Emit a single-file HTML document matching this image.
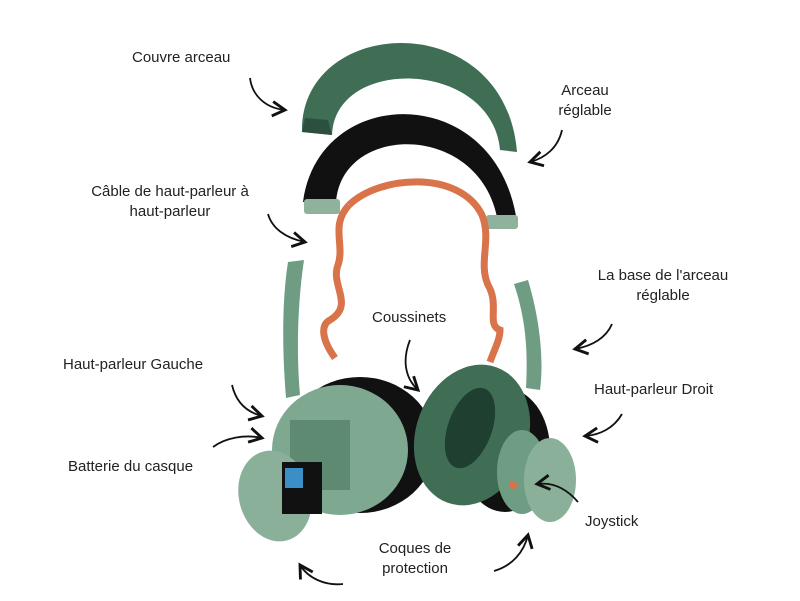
<!DOCTYPE html>
<html><head><meta charset="utf-8"><style>
body{margin:0;background:#fff;width:800px;height:601px;overflow:hidden;position:relative;font-family:"Liberation Sans",sans-serif;}
.t{position:absolute;font-size:15px;color:#222;line-height:20px;white-space:nowrap;}
.c{text-align:center;}
svg{position:absolute;left:0;top:0;}
</style></head><body>
<svg width="800" height="601" viewBox="0 0 800 601">
<defs><marker id="a" markerWidth="10" markerHeight="10" refX="8" refY="5" orient="auto"><path d="M1,1 L8,5 L1,9" fill="none" stroke="#111" stroke-width="1.6"/></marker></defs>
<path d="M288,262 L304,260 C298,300 296,350 300,395 L286,398 C282,350 282,300 288,262Z" fill="#6f9d83"/>
<path d="M514,284 L528,280 C540,320 544,360 540,390 L526,388 C528,350 526,320 514,284Z" fill="#6f9d83"/>
<path d="M302,132 C300,15 505,5 517,152 L500,150 C492,60 335,55 332,135Z" fill="#3f6e55"/>
<path d="M302,132 L332,135 L328,120 L305,118Z" fill="#2c5040"/>
<path d="M303,202 C318,85 492,80 516,216 L498,222 C482,122 342,122 336,202Z" fill="#111"/>
<rect x="304" y="199" width="36" height="15" rx="3" fill="#8fb29c"/>
<rect x="486" y="215" width="32" height="14" rx="3" fill="#8fb29c"/>
<path d="M349,205 C380,175 460,170 482,215 C492,240 478,262 488,285 C500,305 486,325 500,330 C500,340 494,350 490,362" fill="none" stroke="#d9734a" stroke-width="7"/>
<path d="M349,205 C330,225 345,245 338,265 C330,285 355,305 330,320 C320,325 322,340 335,358" fill="none" stroke="#d9734a" stroke-width="7"/>
<ellipse cx="360" cy="445" rx="75" ry="68" fill="#111"/>
<ellipse cx="340" cy="450" rx="68" ry="65" fill="#7fa891"/>
<rect x="290" y="420" width="60" height="70" fill="#5e8a72"/>
<ellipse cx="275" cy="496" rx="36" ry="46" transform="rotate(-15 275 496)" fill="#8bb09a"/>
<rect x="282" y="462" width="40" height="52" fill="#111"/>
<rect x="285" y="468" width="18" height="20" fill="#3a8fc7"/>
<ellipse cx="505" cy="450" rx="45" ry="62" fill="#111"/>
<ellipse cx="472" cy="435" rx="56" ry="72" transform="rotate(20 472 435)" fill="#3f6e55"/>
<ellipse cx="470" cy="428" rx="22" ry="42" transform="rotate(20 470 428)" fill="#1f3f30"/>
<ellipse cx="522" cy="472" rx="25" ry="42" fill="#6f9d83"/>
<ellipse cx="550" cy="480" rx="26" ry="42" fill="#8bb09a"/>
<circle cx="513" cy="485" r="4" fill="#d9734a"/>
<g fill="none" stroke="#111" stroke-width="1.8" marker-end="url(#a)">
<path d="M250,78 C252,95 265,108 285,110"/>
<path d="M562,130 C558,148 545,158 530,162"/>
<path d="M268,214 C272,228 285,238 305,242"/>
<path d="M232,385 C236,402 246,412 262,416"/>
<path d="M213,447 C225,438 245,434 262,438"/>
<path d="M410,340 C402,360 405,378 418,390"/>
<path d="M612,324 C606,338 592,346 575,349"/>
<path d="M622,414 C614,428 600,435 585,436"/>
<path d="M578,502 C566,488 552,482 537,484"/>
<path d="M343,584 C325,586 308,578 300,565"/>
<path d="M494,571 C512,566 524,552 528,535"/>
</g>
</svg>
<div class="t" style="left:132px;top:48px">Couvre arceau</div>
<div class="t c" style="left:545px;top:81px;width:80px">Arceau<br>réglable</div>
<div class="t c" style="left:85px;top:182px;width:170px">Câble de haut-parleur à<br>haut-parleur</div>
<div class="t" style="left:372px;top:308px">Coussinets</div>
<div class="t c" style="left:588px;top:266px;width:150px">La base de l'arceau<br>réglable</div>
<div class="t" style="left:63px;top:355px">Haut-parleur Gauche</div>
<div class="t" style="left:594px;top:380px">Haut-parleur Droit</div>
<div class="t" style="left:68px;top:457px">Batterie du casque</div>
<div class="t" style="left:585px;top:512px">Joystick</div>
<div class="t c" style="left:365px;top:539px;width:100px">Coques de<br>protection</div>
</body></html>
